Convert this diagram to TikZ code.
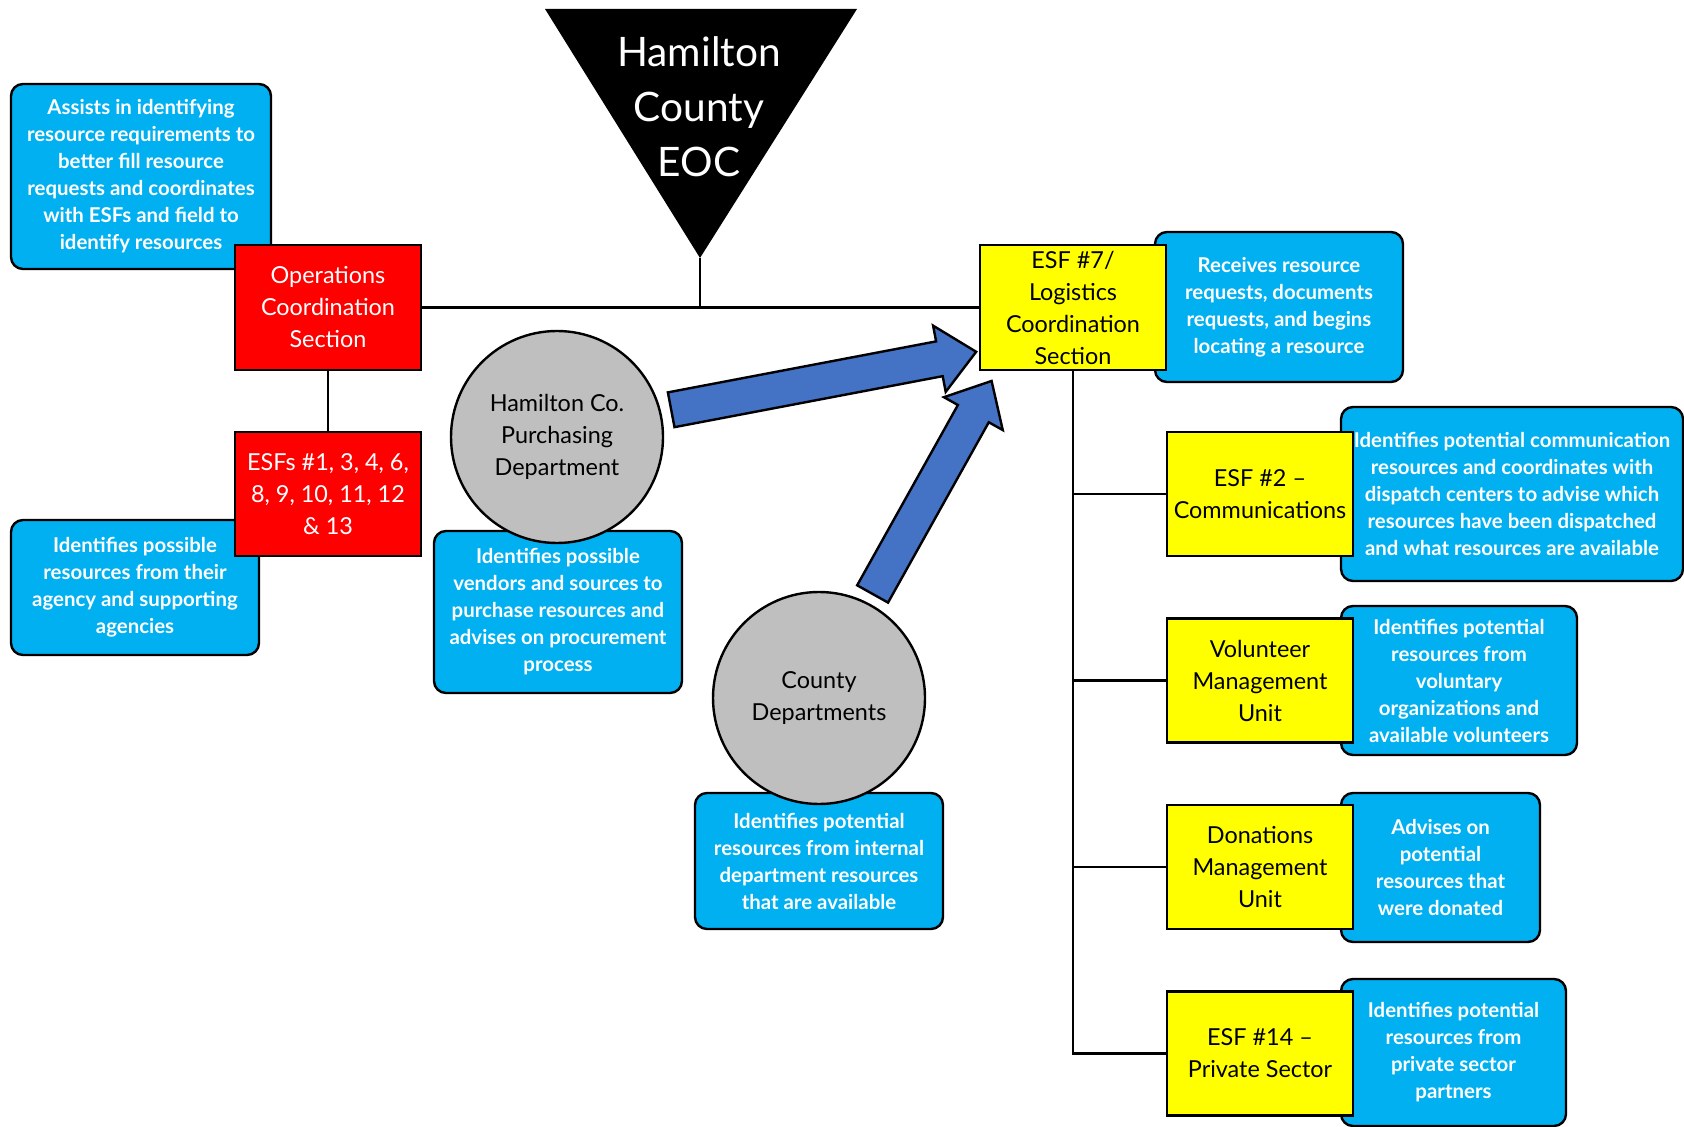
\documentclass[tikz,border=0pt]{standalone}
\usepackage{fontspec}
\setmainfont{Lato}
\usetikzlibrary{positioning, shapes.arrows, calc}

\definecolor{noteblue}{HTML}{00B0F0}
\definecolor{sectred}{HTML}{FF0000}
\definecolor{unityellow}{HTML}{FFFF00}
\definecolor{deptgray}{HTML}{BFBFBF}
\definecolor{arrowblue}{HTML}{4472C4}

\tikzset{
link/.style={line width=1.2pt}, % plain connector lines
note/.style={draw, line width=1.2pt, fill=noteblue, rounded corners=6pt, text=white, align=center, inner sep=0pt, font=\bfseries\fontsize{10.2}{13.5}\selectfont}, % blue description boxes
section/.style={draw, line width=1.2pt, fill=sectred, text=white, align=center, inner sep=0pt, minimum width=93pt, minimum height=62.5pt, font=\fontsize{11.7}{16}\selectfont},
unit/.style={section, fill=unityellow, text=black, minimum height=62pt},
dept/.style={circle, draw, line width=1.2pt, fill=deptgray, align=center, inner sep=0pt, minimum size=106pt, font=\fontsize{11.7}{16}\selectfont},
blockarrow/.style={single arrow, draw, line width=1.2pt, fill=arrowblue, inner xsep=0pt, inner ysep=8.25pt, minimum width=0pt, single arrow head extend=8pt, single arrow tip angle=84, anchor=tail},
}

\begin{document}
\begin{tikzpicture}[x=0.5pt, y=-0.5pt]
      \useasboundingbox (0,0) rectangle (1684,1127);

      % description boxes go first, they sit behind the others
      \node[note, minimum width=130pt, minimum height=92.5pt] (opsnote) at (141,176.5) {Assists in identifying\\resource requirements to\\better fill resource\\requests and coordinates\\with ESFs and field to\\identify resources};
      \node[note, minimum width=124pt, minimum height=67.5pt] (esfsnote) at (135,587.5) {Identifies possible\\resources from their\\agency and supporting\\agencies};
      \node[note, minimum width=124pt, minimum height=81pt] (purchnote) at (558,612) {Identifies possible\\vendors and sources to\\purchase resources and\\advises on procurement\\process};
      \node[note, minimum width=124pt, minimum height=68pt] (deptnote) at (819,861) {Identifies potential\\resources from internal\\department resources\\that are available};
      \node[note, minimum width=124pt, minimum height=75pt] (logisnote) at (1279,307) {Receives resource\\requests, documents\\requests, and begins\\locating a resource};
      \node[note, minimum width=171pt, minimum height=87pt] (commnote) at (1512,494) {Identifies potential communication\\resources and coordinates with\\dispatch centers to advise which\\resources have been dispatched\\and what resources are available};
      \node[note, minimum width=118pt, minimum height=74.5pt] (volnote) at (1459,680.5) {Identifies potential\\resources from\\voluntary\\organizations and\\available volunteers};
      \node[note, minimum width=99.5pt, minimum height=74.5pt] (donnote) at (1440.5,867.5) {Advises on\\potential\\resources that\\were donated};
      \node[note, minimum width=112.5pt, minimum height=73.5pt] (privnote) at (1453.5,1052.5) {Identifies potential\\resources from\\private sector\\partners};

      % EOC triangle
      \coordinate (eoc) at (700,258);
      \fill (545,9) -- (857,9) -- (eoc) -- cycle;
      \node[text=white, align=center, font=\fontsize{20.3}{27.5}\selectfont] (eoctext) at (699,107) {Hamilton\\County\\EOC};

      \node[section] (ops) at (328,307.5) {Operations\\Coordination\\Section};
      \node[section, minimum height=62pt] (esfs) at (328,494) {ESFs \#1, 3, 4, 6,\\8, 9, 10, 11, 12\\\& 13};
      \node[unit, minimum height=62.5pt] (logis) at (1073,307.5) {ESF \#7/\\Logistics\\Coordination\\Section};

      \node[dept] (purch) at (557,437) {Hamilton Co.\\Purchasing\\Department};
      \node[dept] (dept) at (819,698) {County\\Departments};

      % unit column
      \tikzset{node distance=93.25pt}
      \node[unit] (comm) at (1260,494) {ESF \#2 –\\Communications};
      \node[unit, below of=comm] (vol) {Volunteer\\Management\\Unit};
      \node[unit, below of=vol] (don) {Donations\\Management\\Unit};
      \node[unit, below of=don] (priv) {ESF \#14 –\\Private Sector};

      \draw[link]
      (eoc) -- (eoc |- ops.east)
      (ops.east) -- (logis.west)
      (ops) -- (esfs)
      (logis.south) -- (logis.south |- priv.west) -- (priv.west)
      ;
      \foreach \u in {comm, vol, don}
        \draw[link] (logis.south |- \u.west) -- (\u.west);

      % block arrows into logistics
      \coordinate (buytail) at (670,410);
      \coordinate (buytip) at (975,352);
      \coordinate (depttail) at (872,595);
      \coordinate (depttip) at (991,382);
      \foreach \a/\b in {buytail/buytip, depttail/depttip}
        \path let \p1=(\a), \p2=(\b), \n1={atan2(\y2-\y1,\x2-\x1)}, \n2={veclen(\x2-\x1,\y2-\y1)}
          in node[blockarrow, rotate=\n1, minimum height=\n2] at (\p1) {};
    \end{tikzpicture}
\end{document}
